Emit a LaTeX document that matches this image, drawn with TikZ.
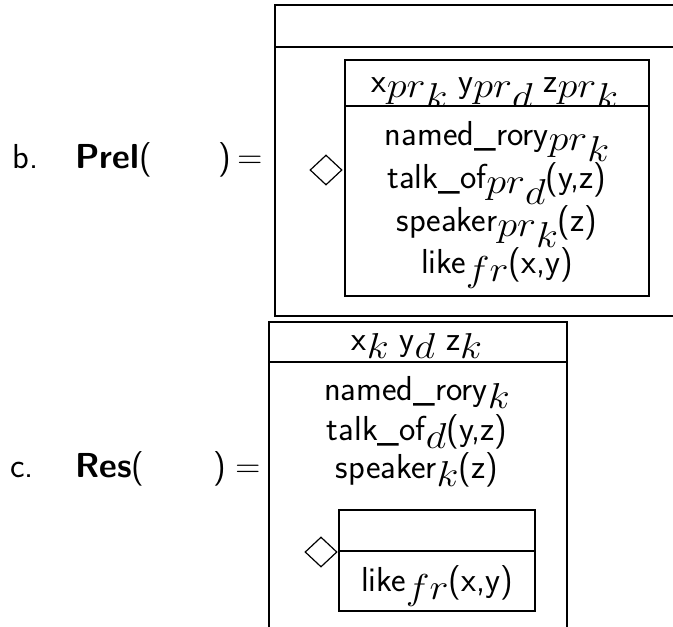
\documentclass[tikz,border=0pt]{standalone}
\usepackage{fix-cm}
\usepackage{fontspec}
\usepackage{graphicx}
\usetikzlibrary{shapes.geometric}
\newcommand\drsfont{\fontsize{26pt}{31pt}\selectfont\sffamily}
\newcommand\subfont{\fontsize{27pt}{27pt}\selectfont}
% lowered, slightly widened math index: \lo{depth}{index}
\newcommand\lo[2]{\raisebox{-#1}{\scalebox{1.12}[1]{\subfont$#2$}}}
% "pr" index carrying a further lowered index
\newcommand\prsub[1]{\lo{4pt}{pr\raisebox{-8pt}{$#1$}}}
\begin{document}
\begin{tikzpicture}[x=0.75pt,y=-0.75pt,
  every node/.style={font=\drsfont},
  txt/.style={inner sep=0pt, anchor=base},
  lab/.style={inner sep=0pt, anchor=base west},
  outerline/.style={line width=1.4pt},
  drsline/.style={line width=1.2pt},
  innerline/.style={line width=0.9pt},
  dmd/.style={draw, diamond, inner sep=0pt, minimum width=24pt,
    minimum height=22.5pt, line width=0.9pt}]
\useasboundingbox (0,0) rectangle (673,626);
\clip (0,0) rectangle (673,626);

% ---------- b. Prel ----------
\node[lab] (blab) at (12,168) {b.};
\node[lab] (bfun) at (75,168) {\textbf{Prel}(};
\node[lab] (bclose) at (218,168) {)};
\node[lab] (beq) at (237,168) {$=$};

\draw[outerline] (275,5) rectangle (720,316);
\draw[outerline] (275,47) -- (720,47);

\node[dmd] (bdia) at (326,170) {};

\node[txt] (bhead) at (495,92) {x\prsub{k} y\prsub{d} z\prsub{k}};
\draw[innerline] (345,60) rectangle (649,106);
\draw[innerline, fill=white] (345,106) rectangle (649,296);
\node[txt] (bc1) at (497,145) {named\_rory\prsub{k}};
\node[txt] (bc2) at (497,188) {talk\_of\prsub{d}(y,z)};
\node[txt] (bc3) at (497,231) {speaker\prsub{k}(z)};
\node[txt] (bc4) at (497,273) {like\lo{6pt}{fr}(x,y)};

% ---------- c. Res ----------
\node[lab] (clab) at (10,477) {c.};
\node[lab] (cfun) at (75,477) {\textbf{Res}(};
\node[lab] (cclose) at (213,477) {)};
\node[lab] (ceq) at (235,477) {$=$};

\draw[drsline] (269,322) rectangle (567,680);
\draw[drsline] (269,362) -- (567,362);
\node[txt] (chead) at (417,350) {x\lo{6.5pt}{k} y\lo{6.5pt}{d} z\lo{6.5pt}{k}};
\node[txt] (cc1) at (417,400) {named\_rory\lo{6.5pt}{k}};
\node[txt] (cc2) at (417,440) {talk\_of\lo{6.5pt}{d}(y,z)};
\node[txt] (cc3) at (417,478) {speaker\lo{6.5pt}{k}(z)};

\node[dmd] (cdia) at (321,552) {};
\draw[innerline] (339,510) rectangle (535,611);
\draw[innerline] (339,551) -- (535,551);
\node[txt] (cc4) at (437,591) {like\lo{6pt}{fr}(x,y)};
\end{tikzpicture}
\end{document}
